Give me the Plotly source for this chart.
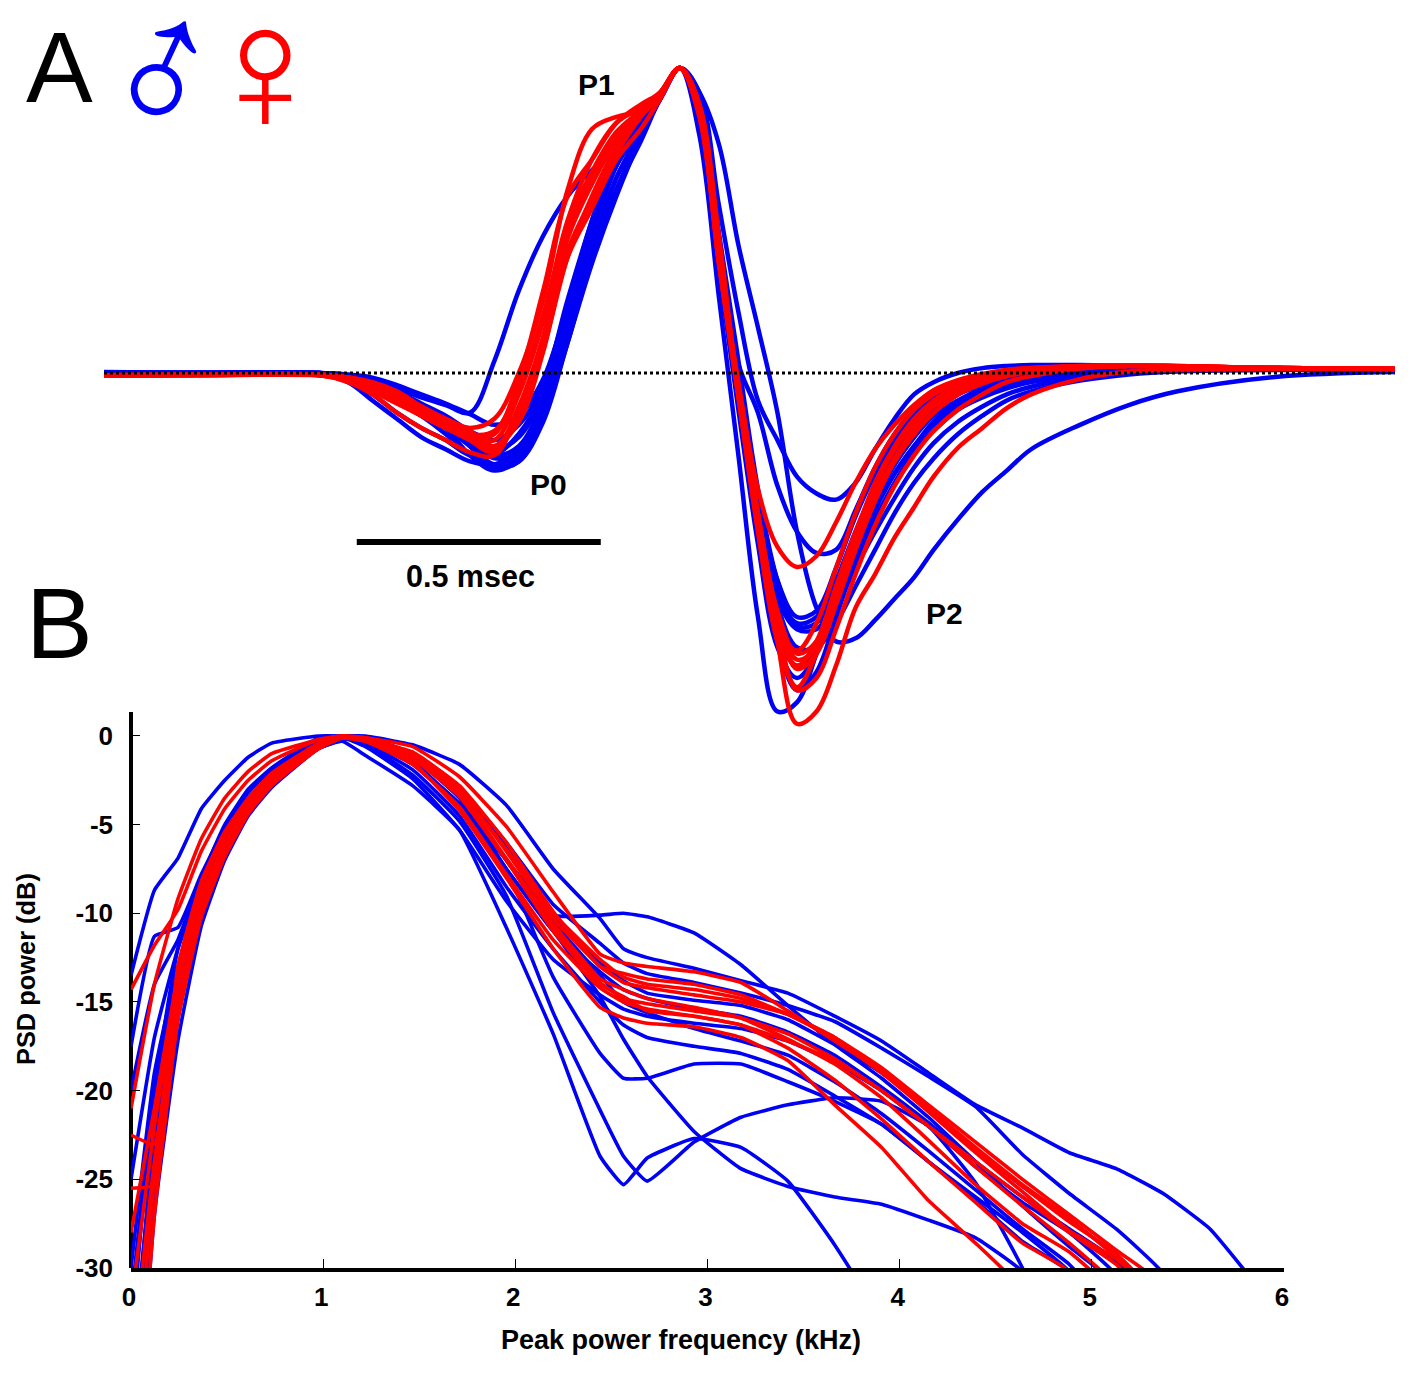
import plotly.graph_objects as go

# ---------- Panel A: ABR-like waveforms (time in ms, amplitude in % of P1) ----------
time_ms = [0, .2, .44, .5, .55, .6, .65, .7, .75, .8, .85, .9, .95, 1.0, 1.05, 1.1, 1.14, 1.18,
           1.22, 1.26, 1.3, 1.34, 1.38, 1.42, 1.46, 1.5, 1.54, 1.58, 1.62, 1.66, 1.7, 1.75, 1.8, 1.85, 1.9,
           2.0, 2.1, 2.2, 2.4, 2.645]

male_rise = [
    [-0.3, 0, 0, -1, -2, -5, -8, -10.5, -13, 4, 27, 45, 58, 66.5, 73, 81, 91, 100],
    [0.3, 0, 0, -.7, -3, -7, -12, -18, -27, -32, -28, -12, 11, 38, 60, 76, 90, 100],
    [0, 0, 0, -1, -4, -8, -13, -18, -24, -30, -27, -13, 12, 40, 64, 78, 90, 100],
    [0, 0, -.3, -3, -9, -15, -21, -25, -29, -30, -25, -10, 16, 44, 68, 80, 90, 100],
    [0, -.3, -.3, -1, -3, -6, -10, -14, -19, -22, -17, -4, 24, 50, 72, 84, 91, 100],
    [0, 0, 0, -.5, -1.5, -4, -7, -10, -13.5, -17, -14, -2, 22, 48, 68, 80, 90, 100],
    [0, 0, -.3, -2.5, -7, -13, -18, -22, -27, -27, -20, -6, 20, 46, 68, 82, 90, 100],
    [0, 0, 0, -1, -4, -8, -12, -17, -24, -31, -29, -14, 10, 38, 60, 78, 90, 100],
    [0, 0, -.2, -1.5, -4, -8, -13, -18, -23, -28, -26, -14, 12, 40, 64, 79, 90, 100],
    [0, 0, 0, -1, -3.5, -7, -11, -16, -22, -27, -24, -9, 18, 48, 70, 82, 91, 100],
    [0, -.2, -.2, -1.5, -5, -9, -14, -20, -27, -31, -29, -16, 10, 36, 58, 77, 90, 100],
    [0, 0, 0, -1, -3, -7, -11, -15, -20, -25, -21, -7, 22, 50, 72, 83, 91, 100],
]
male_fall = [
    [78, 25, -27, -80, -111, -108, -92, -74, -56, -42, -30, -21, -13, -7, -3, -1, .5, 1.5, 1.8, 1.6, 1.3, 1],
    [92, 75, 42, 15, -13, -52, -77, -88, -87, -81, -74, -67, -58, -48, -39, -32, -25, -17, -10.5, -6, -1.3, .3],
    [92, 55, 20, -9, -22, -34, -39.5, -41.5, -36, -25, -15, -7, -3, 0, 1.6, 2.3, 2.6, 2.6, 2.3, 2, 1.6, 1.3],
    [88, 42, 3, -13, -37, -52, -59, -58, -45, -31, -20, -12, -7, -3, -1, .7, 1.5, 2.2, 2.3, 2, 1.6, 1.3],
    [86, 38, -8, -46, -72, -82, -80, -68, -52, -38, -27, -18, -12, -7, -4, -2, -.5, 1, 1.6, 1.6, 1.3, 1],
    [88, 46, 4, -38, -68, -83, -82, -70, -56, -44, -33, -24, -17, -11, -7, -4, -2, 0, 1, 1.3, 1.3, 1],
    [86, 36, -9, -52, -88, -104, -98, -80, -62, -48, -36, -26, -19, -12, -8, -5, -3, -.5, .7, 1, 1.3, 1],
    [88, 44, 0, -44, -76, -90, -90, -82, -70, -58, -46, -36, -28, -20, -14, -9, -6, -2.5, -.5, .5, 1, 1],
    [87, 44, 0, -40, -68, -80, -78, -64, -47, -33, -22, -14, -8, -4, -1, .5, 1.3, 2, 2, 1.8, 1.3, 1],
    [84, 34, -12, -56, -90, -100, -92, -74, -56, -41, -30, -21, -14, -9, -5, -2.5, -1, .7, 1.3, 1.3, 1.3, 1],
    [86, 40, -3, -44, -74, -84, -84, -76, -64, -52, -41, -31, -23, -16, -11, -7, -4.5, -1.5, .2, 1, 1.2, 1],
    [85, 36, -10, -54, -86, -96, -90, -76, -60, -45, -33, -24, -16, -10, -6, -3, -1.5, .5, 1.2, 1.3, 1.2, 1],
]
female_rise = [
    [-.7, -.6, -.7, -2, -5, -9, -13, -17, -21, -24, -13, 8, 38, 58, 74, 85, 92, 100],
    [-.7, -.6, -.6, -1.5, -4, -8, -12, -15, -18, -15, 0, 24, 60, 80, 84, 86, 92, 100],
    [-.7, -.7, -.7, -1.5, -3, -6, -11, -15.4, -20, -19, -4, 19, 50, 70, 82, 87, 92, 100],
    [-.7, -.6, -.6, -1.5, -3.5, -7, -11, -15, -19, -24, -16, 7, 40, 57, 72, 84, 91, 100],
    [-.7, -.7, -.5, -1.5, -3.5, -7.5, -11, -16, -22, -26, -13, 10, 44, 62, 76, 85, 91, 100],
    [-.7, -.6, -.7, -2.5, -6, -10, -14, -18, -21, -20, -2, 27, 58, 70, 82, 88, 92, 100],
    [-.7, -.6, -.5, -1.5, -4, -9, -14, -18, -22, -25, -11, 12, 46, 64, 78, 86, 91, 100],
    [-.7, -.7, -.7, -3, -7, -13, -18, -22, -26, -27, -12, 9, 38, 54, 70, 80, 90, 100],
    [-.7, -.6, -.6, -2, -4.5, -8, -12, -16, -20, -22, -7, 17, 49, 66, 79, 86, 91, 100],
]
female_fall = [
    [85, 37, -6, -46, -78, -92, -88, -72, -53, -36, -24, -15, -9, -4, -1, 1, 1.6, 2.3, 2.3, 2, 1.6, 1.3],
    [88, 45, -7, -50, -88, -115, -111, -96, -77, -66, -54, -44, -34, -24.5, -18, -11.5, -7, -2, .5, 1, 1.3, 1.3],
    [88, 38, -3, -38, -57, -63.6, -60, -49, -36, -25, -17, -10.5, -5.6, -2.3, -.3, 1, 1.6, 2.3, 2.5, 2.3, 1.6, 1.3],
    [88, 40, -5, -48, -82, -104, -100, -84, -66, -50, -37, -27, -19, -12, -7, -3, -1, 1.5, 2.3, 2.2, 1.6, 1.3],
    [86, 38, -6, -46, -80, -97, -92, -76, -58, -42, -29, -20, -13, -7, -3, -1, .5, 1.8, 2.3, 2.2, 1.6, 1.3],
    [85, 37, -7, -48, -84, -96, -88, -70, -52, -37, -25, -16, -10, -5, -2, 0, 1, 2, 2.4, 2.2, 1.6, 1.3],
    [85, 36, -7, -48, -82, -91, -82, -64, -46, -31, -20, -12, -7, -3, -1, .5, 1.3, 2.2, 2.5, 2.3, 1.6, 1.3],
    [87, 39, -5, -46, -79, -94, -90, -74, -56, -41, -29, -20, -13, -7, -3.5, -1, .5, 1.8, 2.4, 2.2, 1.6, 1.3],
    [84, 36, -8, -52, -88, -103, -92, -74, -56, -40, -28, -18, -11, -6, -2.5, -.5, 1, 2, 2.4, 2.2, 1.6, 1.3],
]
baseline_t = [0, 2.645]
baseline_amp = [0, 0]
scale_t = [.518, 1.018]
scale_amp = [-55.4, -55.4]

# ---------- Panel B: power spectra (kHz, dB) ----------
freq_khz = [0, .122, .244, .366, .488, .61, .732, .977, 1.099, 1.22, 1.465, 1.709, 1.953, 2.197, 2.441, 2.563, 2.686,
            2.93, 3.174, 3.418, 3.662, 3.906, 4.15, 4.395, 4.639, 4.883, 5.127, 5.371, 5.615, 5.859]

male_psd = [
    [-45, -27, -17.2, -10.7, -7, -4.5, -2.9, -.7, -.3, -1.1, -2.8, -5.3, -10.8, -16.8, -23.7, -25.3, -23.8,
     -22.7, -23.2, -25.1, -28.7, -33, -40, -40, -40, -40, -40, -40, -40, -40],
    [-40, -24, -15, -9.5, -6.3, -4, -2.5, -.5, -.1, -.5, -2.2, -4.8, -9, -15.6, -21.1, -23.7, -25.1,
     -22.9, -21.5, -20.8, -20.4, -20.6, -22, -25.2, -30, -36, -40, -40, -40, -40],
    [-38, -22, -14, -9, -6, -3.8, -2.3, -.4, -.1, -.3, -1.6, -4, -7.5, -13.6, -17.9, -19.3, -19.3,
     -18.5, -18.5, -19.5, -20.6, -21.9, -24, -26.2, -28.5, -30.2, -34, -40, -40, -40],
    [-34, -20, -12, -8, -5, -3, -1.8, -.1, 0, -.1, -1, -3.4, -7.5, -11, -14.7, -17.1, -19.2,
     -22.3, -24.4, -25.4, -26, -26.4, -27.3, -28.3, -30.2, -34, -40, -40, -40, -40],
    [-17.5, -11.3, -10.8, -7.8, -5.2, -3.2, -1.9, -.3, 0, -.1, -1, -3, -6.2, -10.1, -10.1, -10, -10.2,
     -11.1, -12.9, -15.2, -17.4, -19.3, -21.5, -24, -26.5, -28.8, -31, -40, -40, -40],
    [-13.5, -8.7, -6.9, -4.1, -2.5, -1.2, -.4, 0, 0, 0, -.5, -1.6, -3.9, -7.5, -10.3, -12, -12.5,
     -13.1, -13.8, -14.5, -15.8, -17.2, -19, -20.8, -22.1, -23.5, -24.4, -25.8, -27.8, -31],
    [-20, -14, -11.5, -8, -5.5, -3.5, -2.2, -.4, -.1, -.2, -1.2, -3.5, -7, -10.5, -13.5, -15, -15.6,
     -16.5, -17.2, -18, -19.5, -21.3, -23.4, -25.6, -27.8, -29.8, -33, -40, -40, -40],
    [-30, -19, -13, -8.8, -6, -4, -2.5, -.5, -.1, -.4, -1.9, -4.5, -8.5, -12, -15, -16.3, -17,
     -17.5, -17.9, -18.8, -20.3, -21.9, -24, -26, -28, -30.2, -34, -40, -40, -40],
    [-25, -17, -12, -8.5, -5.8, -3.6, -2.2, -.4, 0, -.2, -1.4, -4, -7.5, -11, -13.3, -14.3, -14.8,
     -15.4, -15.8, -16.7, -18, -19.8, -21.8, -24, -26, -27.8, -29.6, -33, -40, -40],
    [-32, -20, -13.5, -9, -6, -4, -2.6, -.6, -.1, -.3, -1.5, -3.8, -7, -10.2, -12.8, -13.8, -14.5,
     -14.9, -15.2, -16, -17.4, -19, -21, -23.3, -25.4, -27.3, -29.3, -33, -40, -40],
    [-36, -23, -15, -9.8, -6.5, -4.3, -2.7, -.7, -.2, -.2, -1, -2.9, -6, -9.5, -11.7, -12.8, -13.4,
     -13.9, -14.5, -15.2, -16.1, -17.6, -19.2, -20.9, -23.6, -25.8, -27.8, -30.3, -36, -40],
    [-42, -26, -16, -10, -6.7, -4.3, -2.7, -.6, -.1, -.6, -2.4, -5.3, -9.3, -12.6, -14.6, -15.4, -15.8,
     -16.2, -16.5, -17.2, -18.4, -20, -22, -24.3, -26.3, -28, -30.4, -36, -40, -40],
]
female_psd = [
    [-14.3, -11.8, -9.8, -6.5, -4.1, -2.5, -1.4, -.2, 0, -.1, -.6, -2.3, -5.1, -8.8, -12.3, -12.8, -13,
     -13.3, -13.9, -15.5, -17.2, -18.9, -21, -23.3, -25.4, -27.4, -29.2, -32, -40, -40],
    [-21, -14, -9.2, -5.8, -3.5, -2, -1, -.2, 0, -.2, -1.5, -4.2, -8, -12, -15.3, -15.9, -16.2,
     -16.4, -17, -18.3, -20.8, -23.2, -26.2, -28.6, -31.2, -36, -40, -40, -40, -40],
    [-22.5, -23, -13, -8.2, -5.4, -3.5, -2.1, -.4, 0, -.2, -1, -3.2, -6.9, -10.6, -13.7, -14.3, -14.8,
     -15.3, -15.9, -17.1, -18.5, -20.4, -22.8, -25.3, -27.5, -29.1, -31.5, -36, -40, -40],
    [-25.5, -25.3, -15, -9.5, -6.2, -4, -2.5, -.5, -.1, -.3, -1.6, -4, -7.8, -11.5, -14.2, -15, -15.4,
     -15.8, -16.3, -17.6, -19.4, -21.6, -24, -26.3, -28.6, -30.2, -36, -40, -40, -40],
    [-28, -21, -13.5, -8.5, -5.6, -3.6, -2.3, -.5, -.1, -.2, -1.2, -3.4, -7, -10.8, -13.9, -14.8, -15.1,
     -15.5, -15.9, -16.8, -18.2, -20, -22, -24.3, -26.5, -28.6, -31, -36, -40, -40],
    [-32, -22, -14, -9, -6, -3.8, -2.4, -.5, 0, -.1, -1, -3, -6.5, -10.3, -13, -13.9, -14.2,
     -14.6, -15, -15.7, -17, -18.9, -21, -23.2, -25.3, -27.2, -29.4, -32, -40, -40],
    [-36, -24, -15, -9.8, -6.3, -4.1, -2.6, -.6, -.1, -.2, -1.1, -3.1, -6.4, -10, -12.6, -13.6, -14,
     -14.3, -14.8, -15.7, -17.1, -19, -21.2, -23.5, -25.7, -27.9, -29.5, -32, -40, -40],
    [-40, -25, -15.5, -10, -6.6, -4.3, -2.7, -.7, -.1, -.2, -.9, -2.8, -6, -9.9, -13, -13.4, -13.7,
     -14, -14.6, -15.7, -17, -18.7, -20.8, -22.9, -25, -27, -29, -31, -40, -40],
    [-44, -27, -16, -10.2, -6.8, -4.4, -2.8, -.7, -.1, -.3, -1.3, -3.4, -7, -11, -14, -14.7, -15.5,
     -15.8, -16.3, -17.2, -18.3, -20, -22, -24, -26, -28, -29.8, -33, -40, -40],
]
x_ticks = [0, 1, 2, 3, 4, 5, 6]
y_ticks = [0, -5, -10, -15, -20, -25, -30]
y_tick_labels = ["0", "-5", "-10", "-15", "-20", "-25", "-30"]

BLUE, RED, W, H = "#0000f5", "#ff0000", 1418, 1378
FONT = "Liberation Sans"
fig = go.Figure()

for rise, fall in zip(male_rise, male_fall):
    y = rise + fall
    assert len(y) == len(time_ms)
    fig.add_trace(go.Scatter(x=time_ms, y=y, mode="lines", line=dict(color=BLUE, width=4.5, shape="spline", smoothing=1),
                             xaxis="x", yaxis="y", showlegend=False))
for rise, fall in zip(female_rise, female_fall):
    y = rise + fall
    assert len(y) == len(time_ms)
    fig.add_trace(go.Scatter(x=time_ms, y=y, mode="lines", line=dict(color=RED, width=4.5, shape="spline", smoothing=1),
                             xaxis="x", yaxis="y", showlegend=False))
fig.add_trace(go.Scatter(x=baseline_t, y=baseline_amp, mode="lines", line=dict(color="black", width=3, dash="3px,3px"),
                         xaxis="x", yaxis="y", showlegend=False))
fig.add_trace(go.Scatter(x=scale_t, y=scale_amp, mode="lines", line=dict(color="black", width=6),
                         xaxis="x", yaxis="y", showlegend=False))
for y in male_psd:
    assert len(y) == len(freq_khz)
    fig.add_trace(go.Scatter(x=freq_khz, y=y, mode="lines", line=dict(color=BLUE, width=3.6, shape="spline", smoothing=.4),
                             xaxis="x2", yaxis="y2", showlegend=False))
for y in female_psd:
    assert len(y) == len(freq_khz)
    fig.add_trace(go.Scatter(x=freq_khz, y=y, mode="lines", line=dict(color=RED, width=3.6, shape="spline", smoothing=.4),
                             xaxis="x2", yaxis="y2", showlegend=False))


def label(text, px, py, size, color="black", bold=True, family=FONT):
    return dict(text=text, xref="paper", yref="paper", x=px / W, y=1 - py / H, xanchor="center", yanchor="middle",
                showarrow=False, font=dict(size=size, color=color, family=family, weight=700 if bold else 400))


annotations = [
    label("A", 59, 67, 100, bold=False), label("B", 59, 623, 100, bold=False),
    label("♂", 163, 71, 182, BLUE, False) | {"textangle": -20, "height": 124, "width": 124},
    label("♀", 265, 68, 180, RED, False) | {"height": 124, "width": 90},
    label("P0", 548, 484, 30), label("P1", 596, 84, 30), label("P2", 944, 613, 30),
    label("0.5 msec", 470, 576, 30.5),
    label("PSD power (dB)", 26, 969, 25.4) | {"textangle": -90},
    label("Peak power frequency (kHz)", 681, 1340, 27),
]

fig.update_layout(
    width=W, height=H, margin=dict(l=0, r=0, t=0, b=0, autoexpand=False), paper_bgcolor="white",
    plot_bgcolor="rgba(0,0,0,0)", showlegend=False, annotations=annotations,
    xaxis=dict(domain=[0, 1], range=[-104 / 488, 1314 / 488], visible=False, anchor="y"),
    yaxis=dict(domain=[1 - 740 / H, 1], range=[-367 / 3.05, 373 / 3.05], visible=False, anchor="x"),
    xaxis2=dict(domain=[131 / W, 1284 / W], range=[0, 6], tickvals=x_ticks, ticks="inside", ticklen=9, tickwidth=1,
                tickcolor="black", showline=True, linecolor="black", linewidth=3.5, showgrid=False,
                zeroline=True, zerolinecolor="black", zerolinewidth=3.5, ticklabelshift=-2,
                anchor="y2", ticklabelstandoff=3, tickfont=dict(size=26, family=FONT, color="black", weight=700)),
    yaxis2=dict(domain=[1 - 1268 / H, 1 - 711.5 / H], range=[-30, 1.38], tickvals=y_ticks, ticktext=y_tick_labels,
                ticks="inside", ticklen=9, tickwidth=1, tickcolor="black", showline=False,
                showgrid=False, zeroline=False, anchor="x2", ticklabelstandoff=17,
                tickfont=dict(size=26, family=FONT, color="black", weight=700)),
)
fig.write_html("out.html", config={"displayModeBar": False},
               post_script="document.body.style.margin='0';document.body.style.overflow='hidden';")
